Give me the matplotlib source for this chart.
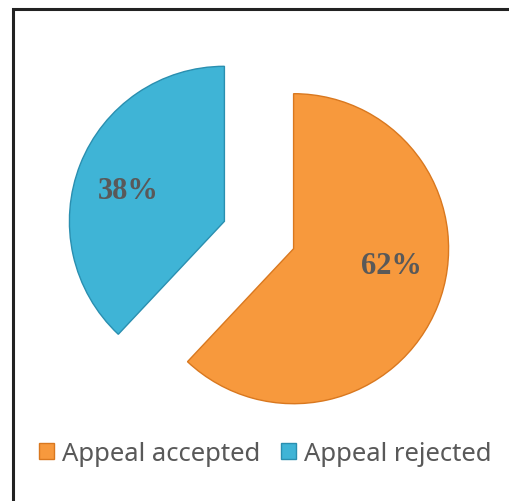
import numpy as np
import matplotlib.pyplot as plt
from matplotlib.patches import Rectangle

# data
labels = ["Appeal accepted", "Appeal rejected"]
shares = [62, 38]
colors = ["#F7993D", "#3FB4D6"]
edges = ["#D9781F", "#2A8FB0"]

fig = plt.figure(figsize=(5.10, 5.02), dpi=100)
ax = fig.add_axes([0, 0, 1, 1])

wedges, _ = ax.pie(shares, colors=colors, startangle=90, counterclock=False,
                   explode=[0.24, 0.24], radius=1.0,
                   wedgeprops=dict(linewidth=1.0))
for w, ec in zip(wedges, edges):
    w.set_edgecolor(ec)

# one unit = 155 px, pie centre at pixel (259, 236)
R = 155.0
cx, cy = 259.0, 236.0
ax.set_aspect("auto")
ax.set_xlim(-cx / R, (510 - cx) / R)
ax.set_ylim(-(502 - cy) / R, cy / R)
ax.axis("off")

# percentage labels, offset from each wedge's tip
label_pos = [(-10, 0.64), (162, 0.65)]
for w, v, (ang, d) in zip(wedges, shares, label_pos):
    x0, y0 = w.center
    a = np.deg2rad(ang)
    ax.text(x0 + d * np.cos(a), y0 + d * np.sin(a), f"{v}%",
            ha="center", va="center", fontsize=22, fontweight="bold",
            family="Liberation Serif", color="#595959")

leg = fig.legend(wedges, labels, loc="center", bbox_to_anchor=(0.52, 0.095),
                 ncol=2, frameon=False, handlelength=0.6, handleheight=0.6,
                 handletextpad=0.3, columnspacing=0.8,
                 prop=dict(family="Noto Sans", size=18.5))
for t in leg.get_texts():
    t.set_color("#595959")

# frame lines at left and top, running off the image
fig.patches.append(Rectangle((13 / 510, -0.1), 1.2, 1 - 10 / 502 + 0.1,
                             transform=fig.transFigure, fill=False,
                             edgecolor="#222222", linewidth=2.2))

fig.savefig("out.png", dpi=100)
